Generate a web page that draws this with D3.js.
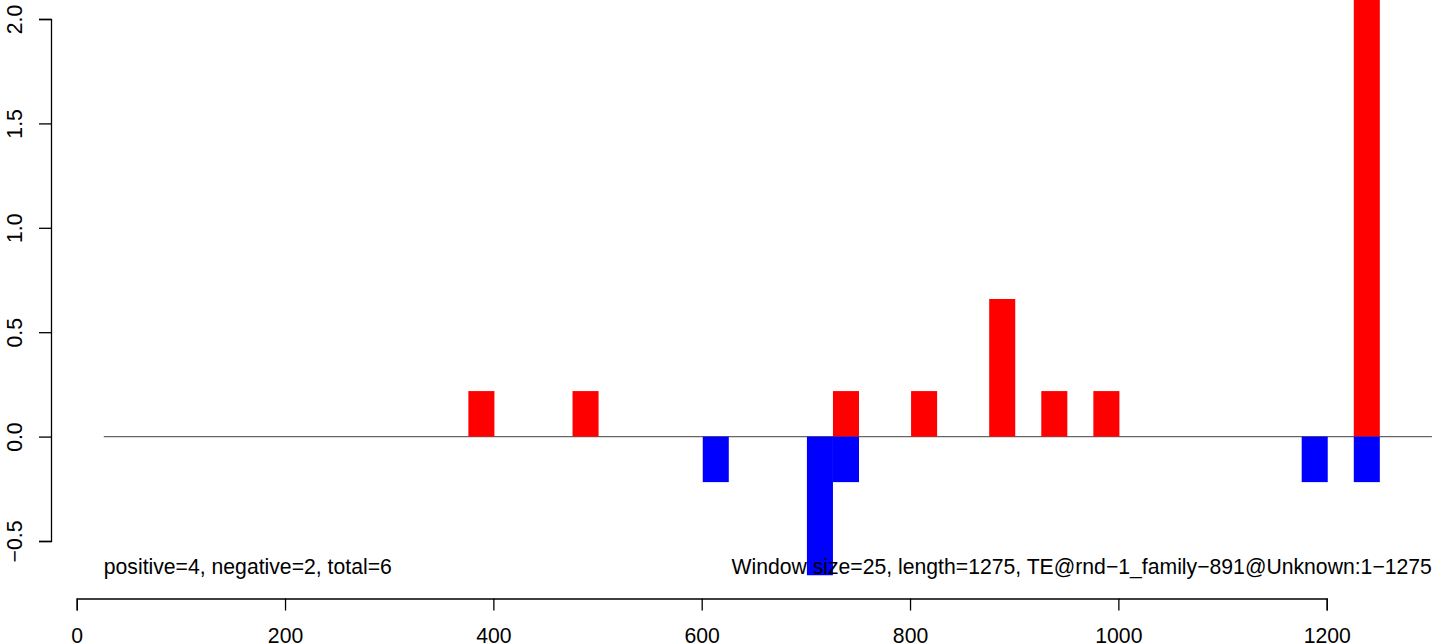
<!DOCTYPE html>
<html>
<head>
<meta charset="utf-8">
<script src="https://cdn.jsdelivr.net/npm/d3@7/dist/d3.min.js"></script>
<style>
  html, body { margin: 0; padding: 0; background: #fff; }
  svg { display: block; }
  text { font-family: "Liberation Sans", Arial, Helvetica, sans-serif; }
</style>
</head>
<body>
<svg id="chart" width="1444" height="644"></svg>
<script>
// ---- data ----
const windowSize = 25;
const posStarts = [375, 475, 725, 800, 875, 925, 975, 1225];
const posValues = [0.218, 0.218, 0.218, 0.218, 0.659, 0.218, 0.218, 2.4];
const negStarts = [600, 700, 725, 1175, 1225];
const negValues = [-0.218, -0.664, -0.218, -0.218, -0.218];
const xTicks = [0, 200, 400, 600, 800, 1000, 1200];
const yTicks = [-0.5, 0.0, 0.5, 1.0, 1.5, 2.0];
const yTickLabels = ["\u22120.5", "0.0", "0.5", "1.0", "1.5", "2.0"];
const seqStart = 26, seqEnd = 1301;
const leftNote = "positive=4, negative=2, total=6";
const rightNote = "Window size=25, length=1275, TE@rnd\u22121_family\u2212891@Unknown:1\u22121275";

const svg = d3.select("#chart");
const FONT = 21.2;

const x = d3.scaleLinear().domain([0, 1200]).range([76.7, 1326.7]);
const y = d3.scaleLinear().domain([-0.5, 2.0]).range([541, 19]);

// baseline
svg.append("line")
  .attr("x1", x(seqStart)).attr("x2", x(seqEnd))
  .attr("y1", y(0)).attr("y2", y(0))
  .attr("stroke", "#666666").attr("stroke-width", 1.2);

// bars
const pos = posStarts.map((s, i) => ({s, v: posValues[i]}));
const neg = negStarts.map((s, i) => ({s, v: negValues[i]}));

svg.append("g").selectAll("rect").data(pos).join("rect")
  .attr("x", d => x(d.s + 1))
  .attr("width", d => x(d.s + 1 + windowSize) - x(d.s + 1))
  .attr("y", d => y(d.v))
  .attr("height", d => y(0) - y(d.v))
  .attr("fill", "#ff0000");

svg.append("g").selectAll("rect").data(neg).join("rect")
  .attr("x", d => x(d.s + 1))
  .attr("width", d => x(d.s + 1 + windowSize) - x(d.s + 1))
  .attr("y", y(0))
  .attr("height", d => y(d.v) - y(0))
  .attr("fill", "#0000ff");

// y axis
const yAxis = d3.axisLeft(y).tickValues(yTicks)
  .tickFormat((d, i) => yTickLabels[i]).tickSize(12).tickSizeOuter(12);
const gy = svg.append("g").attr("transform", "translate(51,0)").call(yAxis);
gy.select(".domain").attr("stroke", "#000").attr("stroke-width", 1.3);
gy.selectAll(".tick line").attr("stroke", "#000").attr("stroke-width", 1.3);
gy.selectAll(".tick text")
  .attr("font-size", FONT).attr("fill", "#000")
  .attr("x", 0).attr("dy", 0)
  .attr("text-anchor", "middle")
  .attr("transform", "translate(-29,0) rotate(-90)");

// x axis
const xAxis = d3.axisBottom(x).tickValues(xTicks).tickFormat(d3.format("d"))
  .tickSize(12).tickSizeOuter(12);
const gx = svg.append("g").attr("transform", "translate(0,598.5)").call(xAxis);
gx.select(".domain").attr("stroke", "#000").attr("stroke-width", 1.3);
gx.selectAll(".tick line").attr("stroke", "#000").attr("stroke-width", 1.3);
gx.selectAll(".tick text")
  .attr("font-size", FONT).attr("fill", "#000")
  .attr("y", 44).attr("dy", 0);

// notes
svg.append("text").attr("x", x(seqStart)).attr("y", 574)
  .attr("font-size", FONT).attr("fill", "#000").text(leftNote);
svg.append("text").attr("x", x(seqEnd)).attr("y", 574)
  .attr("text-anchor", "end")
  .attr("font-size", FONT).attr("fill", "#000").text(rightNote);
</script>
</body>
</html>
